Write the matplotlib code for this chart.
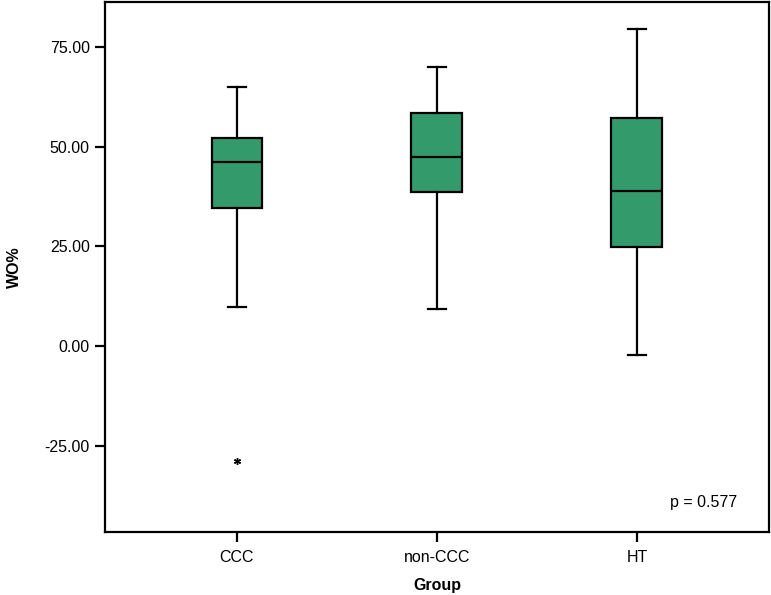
import matplotlib
matplotlib.use("Agg")
import matplotlib.pyplot as plt

plt.rcParams['font.family'] = ['Liberation Sans', 'DejaVu Sans']

groups = ["CCC", "non-CCC", "HT"]
whisker_low = [9.8, 9.3, -2.1]
q1 = [34.6, 38.7, 24.9]
median = [46.2, 47.4, 38.9]
q3 = [52.1, 58.5, 57.2]
whisker_high = [64.9, 70.0, 79.4]
outliers = [[-28.8], [], []]
y_ticks = [-25, 0, 25, 50, 75]
p_text = "p = 0.577"

stats = []
for i, g in enumerate(groups):
    stats.append(dict(label=g, whislo=whisker_low[i], q1=q1[i], med=median[i],
                      q3=q3[i], whishi=whisker_high[i], fliers=outliers[i]))

fig = plt.figure(figsize=(7.71, 5.95), dpi=100)
ax = fig.add_axes([105/771, 63/595, 664/771, 530.5/595])

box_color = '#339a6c'
ax.bxp(stats, positions=[1, 2, 3], widths=0.255, capwidths=0.09, patch_artist=True,
       boxprops=dict(facecolor=box_color, edgecolor='black', linewidth=1.6),
       medianprops=dict(color='black', linewidth=1.6),
       whiskerprops=dict(color='black', linewidth=1.6),
       capprops=dict(color='black', linewidth=1.6),
       flierprops=dict(marker=(6, 2, 0), markersize=5, markeredgecolor='black',
                       markeredgewidth=1.0, linestyle='none'))

ax.set_xlim(0.34, 3.66)
ax.set_ylim(-46.6, 86.4)
ax.set_yticks(y_ticks)
ax.set_yticklabels([f"{v:.2f}" for v in y_ticks])
ax.set_xticks([1, 2, 3])
ax.set_xticklabels(groups)

for s in ax.spines.values():
    s.set_linewidth(1.6)
ax.tick_params(axis='both', direction='out', length=7, width=1.6, labelsize=11.5, pad=4)
ax.tick_params(axis='x', pad=6)

ax.set_xlabel("Group", fontsize=11.5, fontweight='bold', labelpad=9)
ax.set_ylabel("WO%", fontsize=11.5, fontweight='bold', labelpad=16)

ax.text(0.952, 0.0565, p_text, transform=ax.transAxes, ha='right', va='center', fontsize=11.5)

fig.savefig("out.png", dpi=100)
